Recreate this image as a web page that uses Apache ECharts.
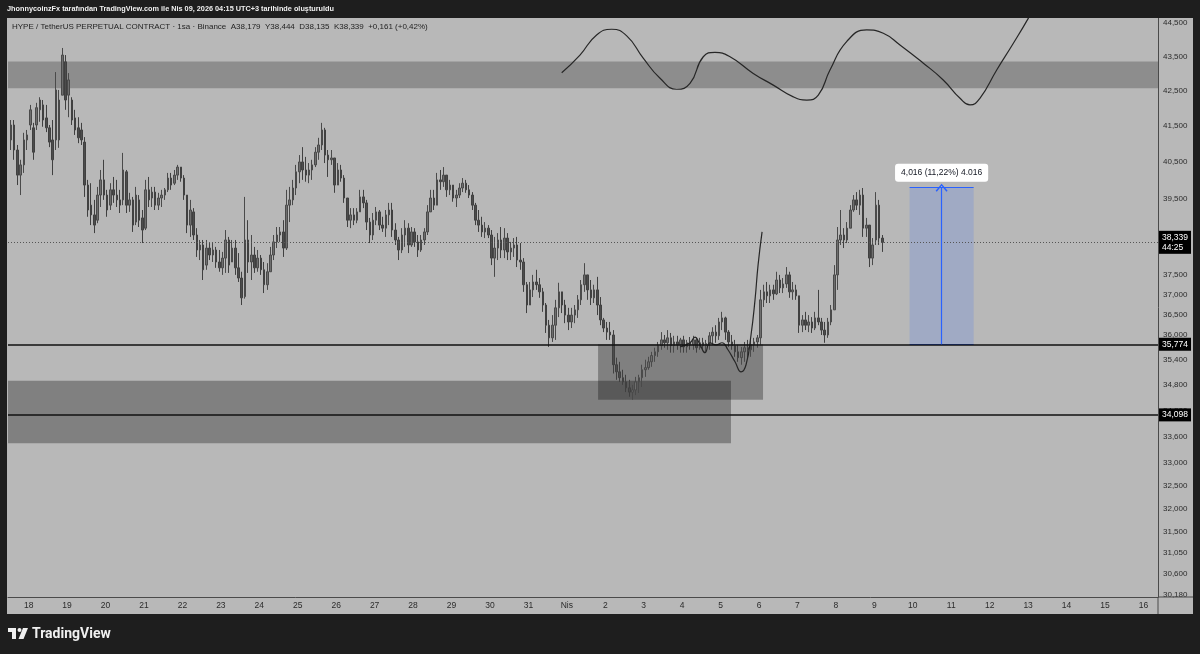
<!DOCTYPE html>
<html>
<head>
<meta charset="utf-8">
<title>HYPE / TetherUS 1sa</title>
<script src="https://cdn.jsdelivr.net/npm/echarts@6/dist/echarts.min.js"></script>
<style>
  html, body { margin: 0; padding: 0; background: #1e1e1e; }
  #chart { width: 1200px; height: 654px; }
</style>
</head>
<body>
<div id="chart"></div>
<script>
// saat 0 = 18 Mart 00:00 (UTC+3), 2 saatlik mumlar
const firstCandleHour = -11;
const candleStep = 2;

// [open, close, low, high]
const candles = [
  [41.10,41.52,40.82,41.66],[41.52,40.82,40.55,41.66],[40.82,40.13,39.86,40.96],[40.13,40.41,39.59,40.55],[40.41,41.10,40.19,41.30],[41.10,41.24,40.82,41.38],
  [41.52,41.95,41.38,42.09],[41.44,40.76,40.55,41.58],[41.52,42.01,41.38,42.15],[41.95,42.23,41.61,42.31],[42.09,41.66,41.47,42.23],[41.72,41.44,41.32,42.09],
  [41.44,41.04,40.90,41.52],[41.10,40.55,40.13,41.66],[41.10,42.52,40.82,43.04],[41.10,42.23,40.88,42.52],[42.37,43.54,42.37,43.75],[43.34,42.23,41.95,43.54],
  [42.37,42.81,41.74,43.01],[42.23,41.66,41.52,42.31],[41.72,41.38,41.24,41.95],[41.44,41.16,41.01,41.74],[41.38,41.10,40.96,41.58],[41.04,39.86,39.54,41.18],
  [39.86,39.19,39.01,40.00],[39.32,39.06,38.79,39.91],[39.06,38.79,38.58,39.46],[38.92,39.59,38.84,39.81],[39.59,40.00,39.27,40.27],[40.00,39.59,39.46,40.55],
  [39.59,39.19,39.01,39.73],[39.32,39.73,39.19,39.91],[39.73,39.59,39.38,40.08],[39.59,39.46,39.27,40.00],[39.46,39.32,39.11,39.73],[39.46,40.27,39.32,40.74],
  [40.22,39.32,39.11,40.27],[39.32,39.46,39.14,39.65],[39.46,38.79,38.61,39.54],[38.87,39.59,38.79,39.81],[39.46,38.92,38.74,39.59],[38.98,38.66,38.32,39.19],
  [38.71,39.73,38.66,40.00],[39.73,39.46,39.27,40.08],[39.51,39.67,39.27,39.81],[39.67,39.32,39.19,39.81],[39.32,39.51,39.19,39.65],[39.51,39.59,39.27,39.73],
  [39.59,39.73,39.46,39.78],[39.73,40.05,39.67,40.19],[40.05,39.86,39.73,40.19],[39.91,40.13,39.86,40.27],[40.13,40.35,40.00,40.41],[40.35,40.05,39.95,40.35],
  [40.05,39.59,39.46,40.13],[39.59,38.79,38.58,39.59],[38.79,39.19,38.48,39.46],[39.14,38.53,38.40,39.24],[38.53,38.14,37.96,38.71],[38.14,38.27,37.88,38.40],
  [38.27,37.63,37.37,38.40],[37.75,38.19,37.63,38.40],[38.19,38.01,37.88,38.32],[38.01,38.14,37.83,38.32],[38.14,37.83,37.68,38.22],[37.83,37.68,37.58,38.14],
  [37.68,37.93,37.50,38.09],[37.93,38.40,37.55,38.66],[38.40,37.75,37.55,38.48],[37.83,38.19,37.83,38.40],[38.19,37.68,37.50,38.40],[37.68,37.42,37.32,38.06],
  [37.42,36.92,36.74,37.58],[36.95,38.40,36.90,39.54],[38.40,37.83,37.55,38.92],[37.83,38.01,37.37,38.53],[38.01,37.68,37.55,38.22],[37.68,37.93,37.58,38.14],
  [37.93,37.63,37.50,38.01],[37.63,37.25,37.04,37.83],[37.25,37.58,37.12,37.80],[37.58,38.01,37.58,38.22],[38.01,38.35,37.88,38.53],[38.35,38.53,38.19,38.74],
  [38.53,38.61,38.35,38.74],[38.61,38.19,37.96,38.92],[38.19,39.32,38.14,39.73],[39.32,39.46,38.87,39.81],[39.46,39.78,39.32,40.00],[39.78,40.22,39.59,40.41],
  [40.22,40.49,39.91,40.68],[40.49,40.27,40.00,40.90],[40.27,40.13,39.95,40.63],[40.13,40.27,39.91,40.46],[40.27,40.41,40.00,40.55],[40.41,40.76,40.35,40.90],
  [40.76,40.96,40.55,41.16],[40.96,41.38,40.82,41.58],[41.38,40.68,40.46,41.44],[40.68,40.55,40.08,40.82],[40.55,40.60,40.41,40.82],[40.60,39.86,39.65,40.60],
  [39.86,40.27,39.86,40.46],[40.27,40.05,39.95,40.41],[40.05,39.51,39.38,40.13],[39.51,38.92,38.74,39.51],[38.92,39.06,38.71,39.24],[39.06,38.92,38.79,39.24],
  [38.92,39.14,38.84,39.24],[39.14,39.54,39.14,39.73],[39.54,39.38,39.24,39.73],[39.38,38.87,38.66,39.46],[38.87,38.53,38.32,38.98],[38.53,38.92,38.40,39.11],
  [38.92,39.14,38.79,39.27],[39.14,38.79,38.66,39.19],[38.79,38.71,38.61,39.01],[38.71,39.06,38.48,39.19],[39.06,39.19,38.79,39.38],[39.19,38.66,38.48,39.38],
  [38.66,38.40,38.27,38.84],[38.40,38.14,37.88,38.48],[38.14,38.53,38.06,38.71],[38.53,38.71,38.22,38.92],[38.71,38.27,38.06,38.84],[38.27,38.61,38.22,38.74],
  [38.61,38.35,38.22,38.71],[38.35,38.14,37.96,38.53],[38.14,38.40,38.09,38.53],[38.40,38.61,38.27,38.71],[38.61,39.14,38.53,39.32],[39.14,39.51,39.14,39.73],
  [39.51,39.32,39.19,39.73],[39.32,40.00,39.32,40.19],[40.00,39.95,39.73,40.27],[39.95,40.13,39.81,40.35],[40.13,39.73,39.54,40.13],[39.73,39.86,39.59,40.00],
  [39.86,39.51,39.41,39.86],[39.51,39.59,39.27,39.73],[39.59,39.78,39.51,39.91],[39.78,39.91,39.67,40.05],[39.91,39.73,39.65,40.00],[39.73,39.59,39.51,39.86],
  [39.59,39.32,39.19,39.67],[39.32,38.92,38.79,39.38],[38.92,38.79,38.61,39.19],[38.79,38.61,38.48,39.01],[38.61,38.71,38.45,38.87],[38.71,38.53,38.45,38.79],
  [38.53,37.93,37.75,38.66],[37.93,38.19,37.45,38.48],[38.19,38.40,37.88,38.58],[38.40,38.14,37.93,38.74],[38.14,38.45,37.93,38.71],[38.45,38.09,37.88,38.58],
  [38.09,38.19,37.88,38.35],[38.19,38.27,37.96,38.45],[38.27,37.88,37.70,38.48],[37.88,37.83,37.63,38.32],[37.83,37.25,37.07,37.93],[37.25,36.74,36.54,37.32],
  [36.74,37.12,36.74,37.32],[37.12,37.32,36.94,37.50],[37.32,37.25,37.12,37.63],[37.25,37.07,36.92,37.42],[37.07,36.74,36.57,37.17],[36.74,36.24,36.05,36.79],
  [36.24,35.93,35.71,36.37],[35.93,36.24,35.83,36.49],[36.24,36.67,35.88,36.87],[36.67,37.07,36.44,37.30],[37.07,36.74,36.54,37.07],[36.74,36.49,36.29,36.87],
  [36.49,36.32,36.12,36.67],[36.32,36.49,36.17,36.67],[36.49,36.62,36.29,36.74],[36.62,36.87,36.42,36.99],[36.87,37.25,36.74,37.37],[37.25,37.50,37.07,37.80],
  [37.50,37.12,36.87,37.50],[37.12,36.92,36.74,37.37],[36.92,37.12,36.79,37.25],[37.12,36.74,36.49,37.45],[36.74,36.37,36.24,36.94],[36.37,36.17,36.07,36.42],
  [36.17,36.07,35.88,36.32],[36.07,36.00,35.88,36.32],[36.00,35.28,35.07,36.12],[35.28,35.11,34.92,35.45],[35.11,34.97,34.87,35.35],[34.97,34.87,34.80,35.16],
  [34.87,34.73,34.63,35.04],[34.73,34.63,34.52,34.92],[34.63,34.68,34.45,34.80],[34.68,34.87,34.56,34.99],[34.87,34.97,34.61,35.04],[34.97,35.16,34.75,35.28],
  [35.16,35.21,34.99,35.40],[35.21,35.35,35.16,35.47],[35.35,35.50,35.23,35.59],[35.50,35.59,35.35,35.69],[35.59,35.74,35.47,35.83],[35.74,35.88,35.64,36.07],
  [35.88,35.81,35.69,36.00],[35.81,35.93,35.64,36.12],[35.93,35.74,35.57,36.05],[35.74,35.83,35.57,35.98],[35.83,35.76,35.64,35.98],[35.76,35.88,35.57,35.93],
  [35.88,35.71,35.57,35.98],[35.71,35.81,35.57,35.88],[35.81,35.76,35.64,35.95],[35.76,35.88,35.64,35.98],[35.88,35.69,35.57,35.93],[35.69,35.81,35.64,35.93],
  [35.81,35.74,35.64,35.93],[35.74,35.79,35.57,35.88],[35.79,35.98,35.64,36.07],[35.98,36.07,35.76,36.19],[36.07,35.98,35.81,36.24],[35.98,36.32,35.88,36.42],
  [36.32,36.42,36.12,36.57],[36.42,36.07,35.88,36.45],[36.07,35.83,35.71,36.12],[35.83,35.74,35.64,36.00],[35.74,35.59,35.47,35.88],[35.59,35.45,35.35,35.76],
  [35.45,35.59,35.28,35.71],[35.59,35.69,35.35,35.83],[35.69,35.64,35.45,35.88],[35.64,35.76,35.47,35.88],[35.76,35.83,35.59,35.93],[35.83,35.93,35.69,36.00],
  [35.93,36.87,35.76,37.12],[36.87,37.07,36.69,37.25],[37.07,36.97,36.79,37.32],[36.97,37.12,36.79,37.25],[37.12,37.02,36.87,37.25],[37.02,37.37,36.99,37.58],
  [37.37,37.17,37.04,37.50],[37.17,37.27,37.04,37.42],[37.27,37.50,37.17,37.70],[37.50,37.07,36.92,37.58],[37.07,37.12,36.87,37.32],[37.12,36.97,36.87,37.25],
  [36.97,36.24,36.05,36.97],[36.24,36.37,36.07,36.49],[36.37,36.24,36.12,36.57],[36.24,36.32,36.07,36.49],[36.32,36.17,36.05,36.44],[36.17,36.42,36.12,36.57],
  [36.42,36.32,36.24,37.12],[36.32,36.12,36.00,36.42],[36.12,36.00,35.81,36.32],[36.00,36.32,35.93,36.42],[36.32,36.62,36.24,36.74],[36.62,37.50,36.62,37.75],
  [37.50,38.40,37.12,38.74],[38.40,38.53,38.27,39.19],[38.53,38.40,38.19,38.71],[38.40,38.71,38.32,38.87],[38.71,39.19,38.71,39.32],[39.19,39.46,39.14,39.59],
  [39.46,39.32,39.19,39.67],[39.32,39.59,39.06,39.73],[39.59,38.71,38.48,39.78],[38.71,38.79,38.48,38.98],[38.79,37.93,37.70,38.79],[37.93,38.27,37.75,38.45],
  [38.40,39.32,38.27,39.67],[39.32,38.45,38.27,39.46],[38.45,38.339,38.09,38.53]
];

// eksen etiketleri (gün başları, 24 saat arayla)
const xTickLabels = ['18','19','20','21','22','23','24','25','26','27','28','29','30','31','Nis',
  '2','3','4','5','6','7','8','9','10','11','12','13','14','15','16'];
const yTicks = [44.5, 43.5, 42.5, 41.5, 40.5, 39.5, 38.5, 37.5, 37.0, 36.5, 36.0, 35.4, 34.8,
  34.2, 33.6, 33.0, 32.5, 32.0, 31.5, 31.05, 30.6, 30.18];

const lastPrice = 38.339;
const lastPriceTimer = '44:25';
const level1 = 35.774;
const level2 = 34.098;

// bölgeler [başlangıç saati, bitiş saati, alt, üst]
const upperZone = [42.57, 43.35];
const lowerZone = [-12.9, 438.5, 33.45, 34.90];
const boxZone = [355.5, 458.5, 34.45, 35.774];

// ölçüm aracı
const measureStart = 550, measureEnd = 590, measureMid = 570;
const measureFrom = 35.774, measureTo = 39.790;
const measureText = '4,016 (11,22%) 4.016';

// elle çizilmiş eğriler [saat, fiyat]
const pathUpper = [
  [332.8,43.02],[344.2,43.54],[354.6,44.14],[364.0,44.31],[373.4,44.11],[383.7,43.45],[394.2,42.86],
  [404.6,42.54],[412.9,42.71],[421.2,43.49],[428.5,43.62],[437.9,43.49],[452.4,43.00],[464.9,42.66],
  [477.4,42.32],[485.8,42.23],[493.0,42.37],[500.3,43.10],[510.7,43.94],[523.2,44.29],[533.6,44.19],
  [544.0,43.84],[558.6,43.30],[571.0,42.81],[581.5,42.28],[587.7,42.09],[593.9,42.28],[604.4,43.10],
  [614.8,43.89],[624.1,44.64],[628.0,45.0]
];
const pathLower = [
  [406.7,35.71],[412.9,35.81],[416.0,35.95],[419.2,35.76],[422.3,35.57],[425.4,35.81],[429.2,35.76],
  [432.9,35.81],[436.6,35.64],[441.0,35.35],[444.8,35.11],[447.9,35.28],[451.0,36.00],[453.5,36.87],
  [455.4,37.75],[457.9,38.61]
];

const xMin = -12.9, xMax = 705.1;
const yMin = 30.13, yMax = 44.65;

const L = Math.log;
const fmtPrice = v => v.toFixed(3).replace('.', ',');
const labelFont = 'Liberation Sans';

const candleData = candles.map((c, i) => [firstCandleHour + candleStep * i, L(c[0]), L(c[1]), L(c[2]), L(c[3])]);

const priceTag = (text) => ({
  show: true,
  position: 'end',
  distance: 1,
  formatter: text,
  backgroundColor: '#000',
  color: '#fff',
  padding: [2, 3, 1, 3],
  fontSize: 8.5,
  lineHeight: 10,
  fontFamily: labelFont
});

const chart = echarts.init(document.getElementById('chart'));

const option = {
  backgroundColor: '#b8b8b8',
  animation: false,
  grid: { left: 8, right: 42, top: 18, bottom: 57 },
  xAxis: {
    type: 'value',
    min: xMin,
    max: xMax,
    axisLine: { show: true, onZero: false, lineStyle: { color: '#4a4a4a', width: 1 } },
    axisTick: { show: false },
    splitLine: { show: false },
    axisLabel: {
      customValues: xTickLabels.map((_, i) => i * 24),
      formatter: v => xTickLabels[Math.round(v / 24)] || '',
      color: '#2b2b2b',
      fontSize: 8.5,
      fontFamily: labelFont,
      margin: 4
    }
  },
  yAxis: {
    type: 'value',
    position: 'right',
    min: L(yMin),
    max: L(yMax),
    axisLine: { show: true, onZero: false, lineStyle: { color: '#4a4a4a', width: 1 } },
    axisTick: { show: false },
    splitLine: { show: false },
    axisLabel: {
      customValues: yTicks.map(L),
      formatter: v => fmtPrice(Math.exp(v)),
      color: '#2b2b2b',
      fontSize: 8,
      fontFamily: labelFont,
      margin: 5
    }
  },
  series: [
    {
      type: 'candlestick',
      data: candleData,
      encode: { x: 0, y: [1, 2, 3, 4] },
      barWidth: 2,
      itemStyle: {
        color: '#6e6e6e',
        color0: '#4c4c4c',
        borderColor: '#4a4a4a',
        borderColor0: '#404040',
        borderWidth: 1
      },
      markArea: {
        silent: true,
        data: [
          [{ yAxis: L(upperZone[0]), itemStyle: { color: 'rgba(0,0,0,0.23)' } }, { yAxis: L(upperZone[1]) }],
          [{ xAxis: lowerZone[0], yAxis: L(lowerZone[2]), itemStyle: { color: 'rgba(0,0,0,0.3)' } },
           { xAxis: lowerZone[1], yAxis: L(lowerZone[3]) }],
          [{ xAxis: boxZone[0], yAxis: L(boxZone[2]), itemStyle: { color: 'rgba(0,0,0,0.3)' } },
           { xAxis: boxZone[1], yAxis: L(boxZone[3]) }],
          [{ xAxis: measureStart, yAxis: L(measureFrom), itemStyle: { color: 'rgba(41,98,255,0.17)' } },
           { xAxis: measureEnd, yAxis: L(measureTo) }]
        ]
      },
      markLine: {
        silent: true,
        precision: 10,
        symbol: ['none', 'none'],
        label: { show: false },
        data: [
          [{ coord: [measureStart, L(measureTo)], lineStyle: { color: '#2962ff', width: 1, type: 'solid' } },
           { coord: [measureEnd, L(measureTo)] }],
          [{ coord: [measureStart, L(measureFrom)], lineStyle: { color: '#2962ff', width: 1, type: 'solid' } },
           { coord: [measureEnd, L(measureFrom)] }],
          { yAxis: L(level1), lineStyle: { color: '#111', width: 1.5, type: 'solid' }, label: priceTag(fmtPrice(level1)) },
          { yAxis: L(level2), lineStyle: { color: '#111', width: 1.5, type: 'solid' }, label: priceTag(fmtPrice(level2)) },
          { yAxis: L(lastPrice), lineStyle: { color: '#555', width: 1, type: [1, 2] },
            label: priceTag(fmtPrice(lastPrice) + '\n' + lastPriceTimer) },
          [{
            coord: [measureMid, L(measureFrom)],
            symbol: 'none',
            lineStyle: { color: '#2962ff', width: 1.2, type: 'solid' },
            label: {
              show: true,
              position: 'end',
              distance: 6,
              formatter: measureText,
              backgroundColor: '#ffffff',
              color: '#131722',
              borderRadius: 3,
              padding: [5, 6, 4, 6],
              fontSize: 8.5,
              fontFamily: labelFont
            }
          }, {
            coord: [measureMid, L(measureTo)],
            symbol: 'path://M0,9 L5,0 L10,9 L9,10 L5,2.5 L1,10 Z',
            symbolSize: [12, 8]
          }]
        ]
      }
    },
    {
      type: 'line',
      data: pathUpper.map(p => [p[0], L(p[1])]),
      smooth: 0.5,
      symbol: 'none',
      lineStyle: { color: '#262626', width: 1.2 },
      silent: true
    },
    {
      type: 'line',
      data: pathLower.map(p => [p[0], L(p[1])]),
      smooth: 0.5,
      symbol: 'none',
      lineStyle: { color: '#262626', width: 1.2 },
      silent: true
    }
  ],
  graphic: [
    { type: 'rect', shape: { x: 0, y: 0, width: 1200, height: 18 }, style: { fill: '#1e1e1e' }, z: 100 },
    { type: 'rect', shape: { x: 0, y: 614, width: 1200, height: 40 }, style: { fill: '#1e1e1e' }, z: 100 },
    { type: 'rect', shape: { x: 0, y: 0, width: 7, height: 654 }, style: { fill: '#1e1e1e' }, z: 100 },
    { type: 'rect', shape: { x: 1193, y: 0, width: 7, height: 654 }, style: { fill: '#1e1e1e' }, z: 100 },
    { type: 'line', shape: { x1: 1158, y1: 597, x2: 1193, y2: 597 }, style: { stroke: '#4a4a4a', lineWidth: 1 }, z: 100 },
    { type: 'line', shape: { x1: 1158, y1: 597, x2: 1158, y2: 614 }, style: { stroke: '#4a4a4a', lineWidth: 1 }, z: 100 },
    {
      type: 'text', x: 7, y: 9, z: 101,
      style: {
        text: 'JhonnycoinzFx tarafından TradingView.com ile Nis 09, 2026 04:15 UTC+3 tarihinde oluşturuldu',
        fill: '#f0f0f0', font: 'bold 7.3px "Liberation Sans Narrow", "Liberation Sans"', verticalAlign: 'middle'
      }
    },
    {
      type: 'text', x: 12, y: 27, z: 101,
      style: {
        text: 'HYPE / TetherUS PERPETUAL CONTRACT · 1sa · Binance  A38,179  Y38,444  D38,135  K38,339  +0,161 (+0,42%)',
        fill: '#1f1f1f', font: '8px "Liberation Sans"', verticalAlign: 'middle'
      }
    },
    { type: 'rect', shape: { x: 8, y: 628, width: 8, height: 4 }, style: { fill: '#f0f0f0' }, z: 101 },
    { type: 'rect', shape: { x: 12, y: 628, width: 4, height: 11 }, style: { fill: '#f0f0f0' }, z: 101 },
    { type: 'circle', shape: { cx: 19.5, cy: 630, r: 2 }, style: { fill: '#f0f0f0' }, z: 101 },
    { type: 'polygon', shape: { points: [[23, 628], [28, 628], [23.5, 639], [18.5, 639]] }, style: { fill: '#f0f0f0' }, z: 101 },
    {
      type: 'text', x: 32, y: 634, z: 101,
      style: { text: 'TradingView', fill: '#f0f0f0', font: 'bold 14px Roboto', verticalAlign: 'middle' }
    }
  ]
};

chart.setOption(option);
</script>
</body>
</html>
